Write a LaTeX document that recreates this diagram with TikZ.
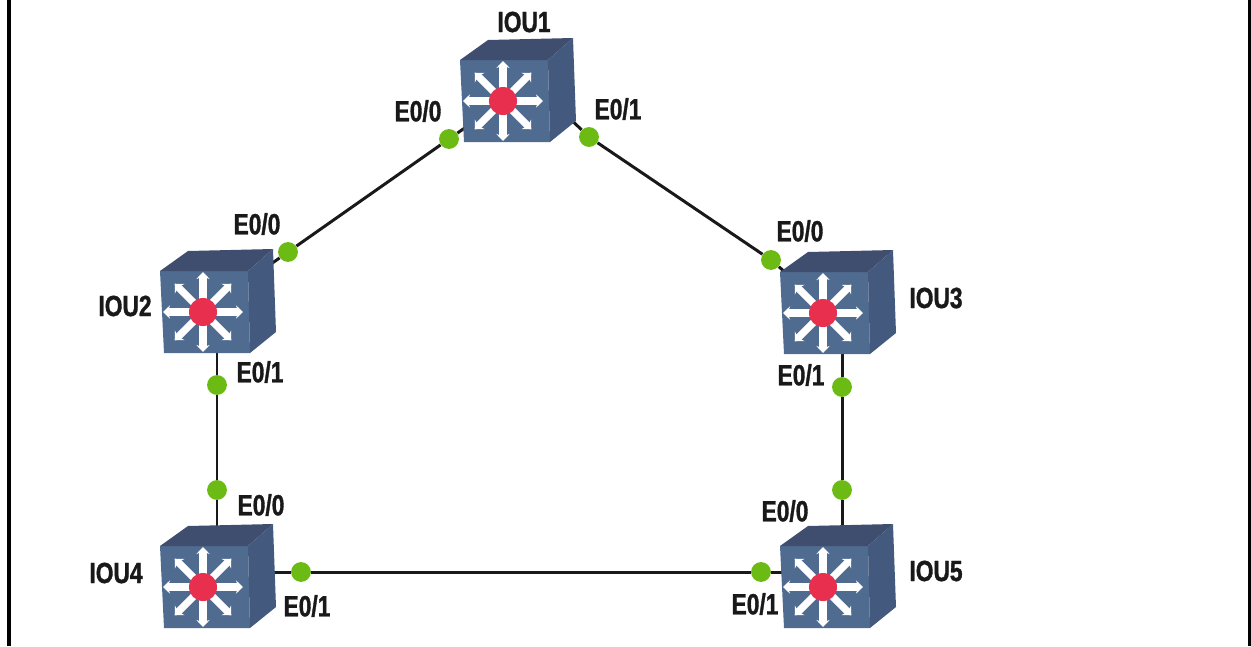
\documentclass[tikz,border=0pt]{standalone}
\usepackage{fontspec}
\setmainfont{Liberation Sans}[FakeStretch=.78,BoldFeatures={FakeBold=1.2}]
\usetikzlibrary{arrows.meta,backgrounds,positioning}
\definecolor{swfront}{HTML}{4F6B90}
\definecolor{swtop}{HTML}{3F4E6E}
\definecolor{swside}{HTML}{435A7E}
\definecolor{swhub}{HTML}{E8304E}
\definecolor{portdot}{HTML}{6CBB14}
\tikzset{
swbox/.style={shape=rectangle,inner sep=0pt,minimum width=49pt,minimum height=47pt},
port/.style={shape=circle,inner sep=0pt,minimum size=11.3pt,fill=portdot},
lbl/.style={inner sep=0pt,font=\bfseries\fontsize{16.6}{18}\selectfont,text=black!90},
link/.style={line width=1.7pt,black!90},
swdeco/.pic={
\fill[swfront] (-43,-41) -- (45,-41) -- (47,41) -- (-39,41) -- cycle;
\fill[swtop] (-43,-41) -- (-15,-61) -- (70,-63) -- (45,-41) -- cycle;
\fill[swside] (45,-41) -- (70,-63) -- (73,20) -- (47,41) -- cycle;
\foreach \ang in {0,45,...,315}
\draw[white,line width=4.2pt,{Stealth[length=4pt,width=7.6pt]}-] (\ang:40) -- (0,0);
\fill[swhub] (0,0) circle (14);
}
}
\begin{document}
\begin{tikzpicture}[x=.02cm,y=-.02cm]
\useasboundingbox (0,0) rectangle (1251,646);
%
\begin{scope}
\clip (0,0) rectangle (1251,628);
\node (iou1) [swbox] at (503,101) {};
\node (iou2) [swbox] at (203,312) {};
\node (iou3) [swbox] at (823,313) {};
\node (iou4) [swbox] at (203,587) {};
\node (iou5) [swbox] at (823,587) {};
\pic at (iou1) {swdeco};
\pic at (iou2) {swdeco};
\pic at (iou3) {swdeco};
\pic at (iou4) {swdeco};
\pic at (iou5) {swdeco};
\end{scope}
%
\coordinate (a1) at (560,109);
\coordinate (a3) at (800,285);
\coordinate (a2) at (217,340);
\coordinate (a4) at (217,550);
\coordinate (b3) at (842,340);
\coordinate (b5) at (842,550);
\coordinate (b4) at (250,572);
\coordinate (c5) at (790,572);
%
\node (p12) [port] at (449,139) {};
\node (p21) [port] at (288,252) {};
\node (p13) [port] at (589,137) {};
\node (p31) [port] at (771,260) {};
\node (p24) [port] at (217,385) {};
\node (p42) [port] at (217,490) {};
\node (p35) [port] at (842,387) {};
\node (p53) [port] at (842,490) {};
\node (p45) [port] at (301,572) {};
\node (p54) [port] at (761,572) {};
%
\begin{scope}[on background layer]
\draw[link] (iou1.center) -- (p12) -- (p21) -- (iou2.center);
\draw[link] (a1) -- (p13) -- (p31) -- (a3);
\draw[link] (a2) -- (p24) -- (p42) -- (a4);
\draw[link] (b3) -- (p35) -- (p53) -- (b5);
\draw[link] (b4) -- (p45) -- (p54) -- (c5);
\end{scope}
%
\node (n1) [lbl] at (524,22) {IOU1};
\node (n2) [lbl] at (125,306) {IOU2};
\node (n3) [lbl] at (936,298) {IOU3};
\node (n4) [lbl] at (116,573) {IOU4};
\node (n5) [lbl] at (936,571) {IOU5};
%
\node (l12) [lbl] at (418,111) {E0/0};
\node (l13) [lbl] at (618,109) {E0/1};
\node (l21) [lbl] at (257,224) {E0/0};
\node (l24) [lbl] at (260,372) {E0/1};
\node (l31) [lbl] at (800,231) {E0/0};
\node (l35) [lbl] at (801,375) {E0/1};
\node (l42) [lbl] at (261,505) {E0/0};
\node (l45) [lbl] at (307,606) {E0/1};
\node (l53) [lbl] at (785,511) {E0/0};
\node (l54) [lbl] at (755,604) {E0/1};
%
\fill[black] (6.5,0) rectangle (10.5,646);
\fill[black] (1247.5,0) rectangle (1251,646);
\end{tikzpicture}
\end{document}
